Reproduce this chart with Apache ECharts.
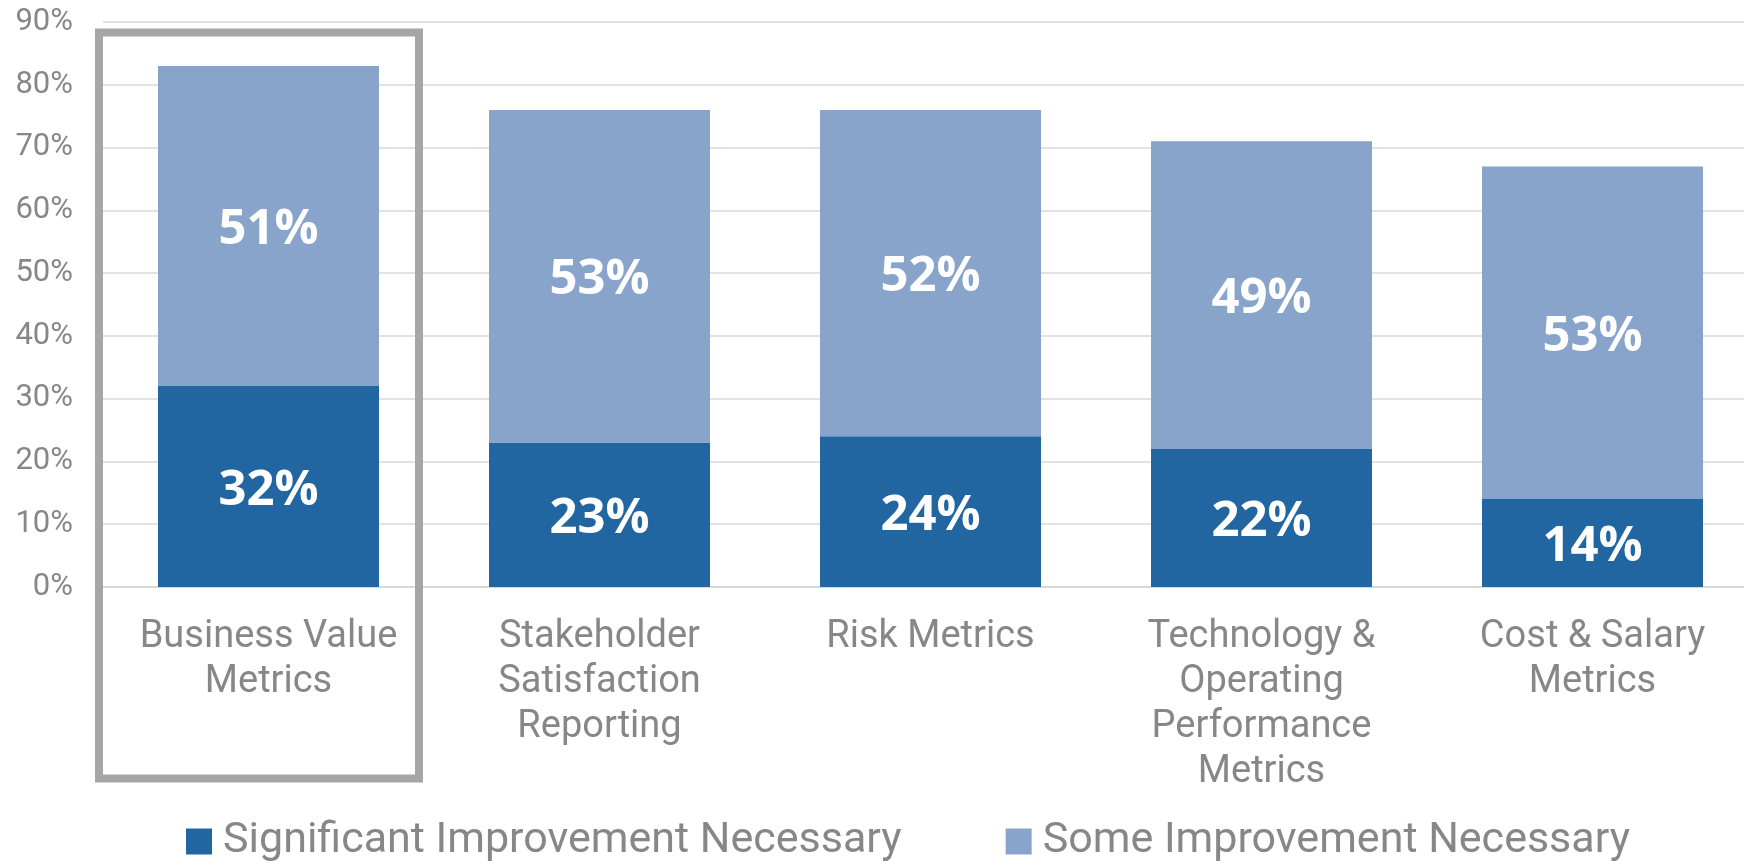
<!DOCTYPE html>
<html>
<head>
<meta charset="utf-8">
<script src="https://cdn.jsdelivr.net/npm/echarts@6/dist/echarts.min.js"></script>
<style>
  html, body { margin: 0; padding: 0; background: #fff; overflow: hidden; }
  /* plot runs a little past the right edge of the picture */
  #chart { width: 1758px; height: 861px; }
</style>
</head>
<body>
<div id="chart"></div>
<script>
// categories and values
const categories = [
  'Business Value\nMetrics',
  'Stakeholder\nSatisfaction\nReporting',
  'Risk Metrics',
  'Technology &\nOperating\nPerformance\nMetrics',
  'Cost & Salary\nMetrics'
]
const significant = [32, 23, 24, 22, 14]
const some = [51, 53, 52, 49, 53]
const seriesNames = ['Significant Improvement Necessary', 'Some Improvement Necessary']

const grey = '#878787'
const chart = echarts.init(document.getElementById('chart'))

const labelStyle = {
  show: true,
  position: 'inside',
  offset: [0, 4],
  color: '#fff',
  fontFamily: 'Open Sans',
  fontWeight: 'bold',
  fontSize: 49,
  formatter: p => p.value + '%'
}

chart.setOption({
  animation: false,
  grid: { left: 103, right: 0, top: 22, bottom: 274 },
  legend: {
    data: seriesNames,
    left: 181,
    top: 815,
    itemWidth: 26,
    itemHeight: 26,
    itemGap: 104,
    icon: 'rect',
    textStyle: { color: grey, fontFamily: 'Roboto', fontSize: 43, padding: [0, 0, 0, 6] }
  },
  xAxis: {
    type: 'category',
    data: categories,
    axisTick: { show: false },
    axisLine: { lineStyle: { color: '#D9D9D9', width: 2 } },
    axisLabel: {
      color: grey,
      fontFamily: 'Roboto',
      fontSize: 38,
      lineHeight: 45,
      margin: 28,
      interval: 0
    }
  },
  yAxis: {
    type: 'value',
    min: 0,
    max: 90,
    interval: 10,
    axisLine: { show: false },
    axisTick: { show: false },
    splitLine: { lineStyle: { color: '#E2E2E2', width: 2 } },
    axisLabel: {
      color: grey,
      fontFamily: 'Roboto',
      fontSize: 31,
      margin: 30,
      formatter: '{value}%'
    }
  },
  series: [
    {
      name: seriesNames[0],
      type: 'bar',
      stack: 'total',
      barWidth: 221,
      itemStyle: { color: '#2166A0' },
      label: labelStyle,
      data: significant
    },
    {
      name: seriesNames[1],
      type: 'bar',
      stack: 'total',
      barWidth: 221,
      itemStyle: { color: '#88A4CA' },
      label: labelStyle,
      data: some
    }
  ]
})

// grey highlight box around the first category
const cx = chart.convertToPixel({ xAxisIndex: 0 }, 0)
const yTop = chart.convertToPixel({ yAxisIndex: 0 }, 90)
chart.setOption({
  graphic: [{
    type: 'rect',
    z: 100,
    shape: { x: cx - 169.5, y: yTop + 10.5, width: 320, height: 746 },
    style: { fill: 'none', stroke: '#A6A6A6', lineWidth: 8 }
  }]
})
</script>
</body>
</html>
